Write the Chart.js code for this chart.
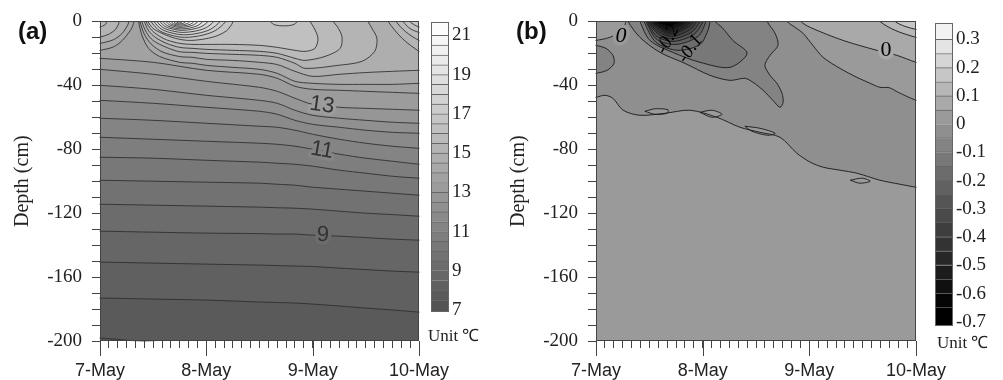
<!DOCTYPE html>
<html>
<head>
<meta charset="utf-8">
<script src="https://cdn.jsdelivr.net/npm/chart.js@4.4.1/dist/chart.umd.min.js"></script>
<style>
  html, body { margin:0; padding:0; background:#ffffff; }
  body { position:relative; width:1003px; height:380px; overflow:hidden; }
  canvas { position:absolute; top:0; }
  #pa { left:0px; width:465px; height:380px; }
  #cba { left:425px; width:75px; height:380px; }
  #pb { left:490px; width:470px; height:380px; }
  #cbb { left:925px; width:78px; height:380px; }
</style>
</head>
<body>
<canvas id="pa" width="465" height="380"></canvas>
<canvas id="pb" width="470" height="380"></canvas>
<canvas id="cba" width="75" height="380"></canvas>
<canvas id="cbb" width="78" height="380"></canvas>
<script>
// ================= DATA =================
// time axis in hours from 7-May 00:00, depth in cm
const xTickHours = [0, 24, 48, 72];
const xTickLabels = ['7-May', '8-May', '9-May', '10-May'];
const yTickValues = [0, -40, -80, -120, -160, -200];

// colour bar (a): band lower bounds (0.5 degC) and labelled ticks
const cbaBands = [7,7.5,8,8.5,9,9.5,10,10.5,11,11.5,12,12.5,13,13.5,14,14.5,15,15.5,16,16.5,17,17.5,18,18.5,19,19.5,20,20.5,21];
const cbaTicks = [7, 9, 11, 13, 15, 17, 19, 21];
const cbaTickLabels = ['7', '9', '11', '13', '15', '17', '19', '21'];
// colour bar (b)
const cbbBands = [-0.7,-0.65,-0.6,-0.55,-0.5,-0.45,-0.4,-0.35,-0.3,-0.25,-0.2,-0.15,-0.1,-0.05,0,0.05,0.1,0.15,0.2,0.25,0.3];
const cbbTicks = [-0.7,-0.6,-0.5,-0.4,-0.3,-0.2,-0.1,0,0.1,0.2,0.3];
const cbbTickLabels = ['-0.7','-0.6','-0.5','-0.4','-0.3','-0.2','-0.1','0','0.1','0.2','0.3'];

// ---- panel (a) isotherms: depth (cm) of each level ----
const aHours = [0, 12, 24, 36, 40, 44, 48, 54, 60, 66, 72];
const aDepth_8_0  = [-173.1,-173.75,-174.4,-175.6,-175.9,-176.25,-176.9,-178.1,-179.4,-180.6,-181.9];
const aDepth_8_5  = [-150.6,-151.25,-151.9,-152.5,-152.8,-153.1,-153.4,-154.4,-155.3,-156.25,-156.9];
const aDepth_9_0  = [-131.25,-131.9,-132.5,-132.8,-133.1,-133.1,-133.75,-134.4,-135.3,-136.25,-136.9];
const aDepth_9_5  = [-114.4,-115,-115.6,-116.25,-116.6,-116.9,-117.5,-118.75,-120,-120.9,-121.9];
const aDepth_10_0 = [-99.4,-100,-100.6,-101.25,-101.9,-102.5,-103.75,-105,-106.25,-107.5,-108.75];
const aDepth_10_5 = [-85,-85.6,-86.9,-88.1,-88.75,-89.4,-90.6,-93.1,-95,-96.9,-98.1];
const aDepth_11_0 = [-72.5,-73.75,-75,-76.25,-76.9,-78.1,-80,-83.1,-85.6,-87.5,-89.4];
const aDepth_11_5 = [-60.6,-61.9,-63.75,-65.6,-66.25,-68.1,-70.6,-73.75,-76.25,-78.1,-79.4];
const aDepth_12_0 = [-49.4,-51.25,-53.75,-56.25,-58.1,-61.9,-64.4,-66.25,-68.1,-69.4,-70];
const aDepth_12_5 = [-40,-42.5,-46.25,-49.4,-51.25,-55.6,-58.75,-60.6,-61.9,-63.1,-63.75];
const aDepth_13_0 = [-30,-33.1,-37.5,-41.25,-43.75,-48.1,-51.9,-53.75,-54.4,-55,-55.6];
const aDepth_13_5 = [-23.1,-25.6,-30.6,-33.1,-35.6,-40.6,-42.5,-43.1,-43.75,-44.4,-45];
const aLine_7_5  = [[0,-198.1],[8.4,-200],[24,-203],[48,-207],[72,-211]];
const aLine_14_0 = [[0,-18.1],[3,-16],[5,-12],[7,-5],[7.7,0],[7.8,2],[8.6,2],[8.7,0],[9.5,-9],[11,-17],[13.5,-22],[18,-25.6],[21,-26.25],[24,-27.5],[30,-28.75],[36,-30],[40,-32.5],[44,-37.5],[48,-38.75],[54,-39.4],[60,-39.4],[66,-39.4],[72,-38.75]];
const aLine_14_5 = [[0,-13.75],[3,-11.5],[5,-7.5],[6.3,-2],[6.5,0],[6.6,2],[8.9,2],[9.0,0],[10,-8],[11.5,-14],[14,-19],[18,-22],[21,-22.5],[24,-23.75],[30,-24.4],[36,-25.6],[40,-27],[44,-31.25],[48,-34.4],[54,-33.1],[60,-32],[66,-31.25],[72,-30.6]];
const aLine_15_0 = [[0,-9.8],[2,-8],[3.5,-5],[4.2,-1.5],[4.3,0],[4.4,2],[9.3,2],[9.4,0],[10.5,-7],[12,-12],[15,-16.25],[18,-19],[21,-19.4],[24,-20],[30,-20.6],[36,-21.25],[40,-22.5],[44,-26.25],[46.3,-29.4],[53.7,-27.5],[59.1,-25],[62,-18.75],[62.5,-10.6],[61.3,-4],[60.5,0],[60.4,2],[64.9,2],[65,0],[68.2,-10.6],[72,-18.75]];
const aLine_15_5 = [[0,-3.5],[1.2,-2],[1.5,0],[1.6,2],[9.9,2],[10,0],[11,-6],[12.5,-10],[15,-13.75],[18,-16.25],[21,-16.9],[24,-17.5],[30,-18.1],[36,-18.75],[40,-20],[44,-23.1],[46.3,-24.4],[50.8,-21.9],[54.2,-16.9],[54.6,-9.4],[53.5,-3],[52.6,0],[52.5,2],[66.7,2],[66.8,0],[69,-6.5],[72,-11.9]];
const aLine_16_0 = [[10.4,0],[11.5,-5],[13,-8.5],[15,-11.5],[18,-13.75],[21,-14.4],[24,-14.4],[30,-14.4],[36,-15],[40,-16.25],[44,-18.1],[46.3,-18.75],[48.5,-16.9],[49.2,-10.6],[48.3,-4],[47.4,0],[47.3,2],[68.3,2],[68.4,0],[70,-4.5],[72,-6.9]];
const aLine_16_5 = [[10.83,0],[12,-4.4],[14,-7.5],[17,-10.6],[20,-11.9],[23,-11.25],[26,-9.4],[28.5,-6],[29.7,-2],[30.0,0],[30.05,2],[38.3,2],[38.4,0],[39.5,-2.2],[41.5,-2.8],[43.5,-2.2],[44.6,0],[44.7,2],[69.8,2],[69.9,0],[71,-2.2],[72,-3.5]];
const aLoop_17_0 = [[11.51,0],[13.54,-6],[16.58,-9],[19.1,-10],[22.49,-9],[25.87,-6],[28.4,0]];
const aLoop_17_5 = [[12.19,0],[13.98,-5.04],[16.66,-7.56],[18.9,-8.4],[21.88,-7.56],[24.86,-5.04],[27.1,0]];
const aLoop_18_0 = [[12.86,0],[14.4,-4.14],[16.71,-6.21],[18.64,-6.9],[21.21,-6.21],[23.77,-4.14],[25.7,0]];
const aLoop_18_5 = [[13.54,0],[14.84,-3.36],[16.8,-5.04],[18.43,-5.6],[20.6,-5.04],[22.77,-3.36],[24.4,0]];
const aLoop_19_0 = [[14.22,0],[15.3,-2.82],[16.91,-4.23],[18.26,-4.7],[20.06,-4.23],[21.85,-2.82],[23.2,0]];
const aLoop_19_5 = [[14.9,0],[15.76,-2.25],[17.06,-3.38],[18.14,-3.75],[19.58,-3.38],[21.02,-2.25],[22.1,0]];
const aLoop_20_0 = [[15.46,0],[16.15,-1.8],[17.18,-2.7],[18.04,-3.0],[19.19,-2.7],[20.34,-1.8],[21.2,0]];
const aLoop_20_5 = [[16.02,0],[16.53,-1.35],[17.3,-2.03],[17.95,-2.25],[18.8,-2.03],[19.66,-1.35],[20.3,0]];
const aLoop_21_0 = [[16.59,0],[16.93,-0.96],[17.43,-1.44],[17.85,-1.6],[18.42,-1.44],[18.98,-0.96],[19.4,0]];
const aLoop_21_5 = [[17.15,0],[17.34,-0.54],[17.62,-0.81],[17.85,-0.9],[18.16,-0.81],[18.47,-0.54],[18.7,0]];
// contour labels (a): text, hour, depth
const aLabelTexts = ['13', '11', '9'];
const aLabelHours = [50.1, 50.1, 50.3];
const aLabelDepths = [-52.5, -80.6, -133.75];

// ---- panel (b) contour regions (hour, depth) ----
const bLine_lower   = [[0,-47.5],[2.0,-46.25],[3.8,-48.1],[6.1,-55.6],[9.9,-58.75],[15.5,-57.5],[21.2,-55.6],[27.2,-60],[32.4,-66.25],[36.9,-69.4],[41.4,-72.5],[45.2,-82.5],[48.2,-88.1],[51.1,-91.25],[54.9,-93.1],[58.7,-95],[63.9,-99.4],[68.4,-101.9],[72,-103.75]];
const bLine_upper   = [[42.98,0],[44.8,-3.75],[46.6,-7.5],[48.8,-15],[51.1,-22.5],[54.9,-29.4],[58.7,-35],[61.5,-38.5],[63.9,-41.25],[66,-41.5],[68.0,-44.4],[72,-49.4]];
const bLine_zero    = [[46.1,0],[48.2,-3.75],[55.6,-11.9],[63.2,-18.1],[67.7,-21.25],[72,-25.6]];
const bCorner_1     = [[63.9,0],[67.3,-5.6],[72,-10]];
const bCorner_2     = [[67.3,0],[69.5,-3.1],[72,-5]];
const bTopLeft      = [[0,-11.9],[3.1,-10],[5.85,-5.6],[6.75,0]];
const bIsland_1     = [[11.0,-56.25],[13.3,-54.7],[16.2,-55.3],[16.0,-57.5],[13.3,-58.1],[11.0,-56.25]];
const bIsland_2     = [[23.4,-56.9],[26.1,-55.6],[28.35,-58.1],[26.1,-60],[23.4,-56.9]];
const bIsland_3     = [[33.5,-65.6],[36.9,-66.9],[40.3,-70],[38.7,-71.25],[35.1,-68.75],[33.5,-65.6]];
const bIsland_4     = [[57.2,-99.4],[59.9,-98.1],[61.7,-100],[59.4,-101.25],[57.2,-99.4]];
const bLeftBulge    = [[0,-15],[2.25,-16.9],[3.8,-21.25],[4.05,-26.25],[2.5,-30.6],[0,-32.5]];
const bHot_05 = [[7.2,0],[9.9,-10],[14.4,-19.4],[20.0,-26.25],[25.65,-33.75],[30.15,-36.9],[33.5,-35.6],[35.3,-38.1],[37.6,-43.1],[39.8,-49.4],[41.4,-53.75],[42.1,-50.6],[41.85,-45],[40.7,-38.75],[39.15,-33.75],[38.0,-27.5],[39.15,-21.25],[40.95,-15],[40.3,-7.5],[38.5,0]];
const bHot_10 = [[9.9,0],[12.15,-11.9],[17.3,-19.4],[23.4,-25.6],[30.15,-28.75],[34.0,-20],[30.8,-11.9],[28.35,-3.75],[26.8,0]];
const bHot_15 = [[10.8,0],[13.5,-13.1],[18.45,-18.1],[23.4,-14.4],[25.2,-5.6],[25.65,0]];
const bHot_20 = [[11.25,0],[13.7,-11.25],[18.0,-14.4],[22.95,-9.4],[24.75,0]];
const bHot_25 = [[11.5,0],[13.7,-9.4],[17.55,-12.5],[22.05,-8.1],[24.1,0]];
const bHot_30 = [[11.7,0],[13.95,-7.8],[17.1,-10.9],[21.4,-6.9],[23.4,0]];
const bHot_35 = [[11.9,0],[13.95,-6.25],[16.9,-9.4],[20.9,-5.6],[22.7,0]];
const bHot_40 = [[12.15,0],[14.2,-5],[16.65,-8.1],[20.25,-4.4],[22.05,0]];
const bHot_45 = [[12.4,0],[14.4,-4.1],[16.4,-6.9],[19.8,-3.75],[21.4,0]];
const bHot_50 = [[12.6,0],[16.2,-5.6],[19.1,-3.1],[20.7,0]];
const bHot_55 = [[12.8,0],[16.0,-4.4],[18.7,-2.5],[19.8,0]];
const bHot_60 = [[13.3,0],[16.0,-3.1],[18.0,-1.9],[18.9,0]];
// contour labels (b)
const bLabelTexts = ['0', '0', '-0.2', '-0.1'];
const bLabelHours = [65.25, 5.6, 16.2, 21.2];
const bLabelDepths = [-18.1, -9.4, -11.2, -17.2];

// ================= BUILD =================
const X_MIN = 0, X_MAX = 72, Y_MIN = -200, Y_MAX = 0;
const SERIF = '"Liberation Serif", "Times New Roman", serif';
const SANS = '"Liberation Sans", Arial, sans-serif';

function pairs(hours, depths) { return hours.map((h, k) => [h, depths[k]]); }

// close a contour into a polygon through points lying outside the plot area
function closeShape(pts) {
  const first = pts[0], last = pts[pts.length - 1];
  if (first[0] === last[0] && first[1] === last[1]) return pts;
  const ABOVE = 3;
  const ext = p => {
    if (p[0] <= X_MIN) return [[X_MIN - 0.6, ABOVE], [X_MIN - 0.6, p[1]]];
    if (p[0] >= X_MAX) return [[X_MAX + 0.6, ABOVE], [X_MAX + 0.6, p[1]]];
    return [[p[0], ABOVE]];
  };
  return [...ext(first), ...pts, ...ext(last).reverse()];
}
const grey = g => { g = Math.max(0, Math.min(255, Math.round(g))); return `rgb(${g},${g},${g})`; };
const bandA = lvl => grey(84 + 6 * Math.round((lvl - 7) / 0.5));
const idxB = lvl => Math.round((lvl + 0.7) / 0.05);
const greyB = i => i <= 14 ? grey(154 - (14 - i) * 11.5) : grey(154 + (i - 14) * 14.7);
const bandB = lvl => greyB(idxB(lvl));

const aLines = [
  [7.5, aLine_7_5], [8, pairs(aHours, aDepth_8_0)], [8.5, pairs(aHours, aDepth_8_5)],
  [9, pairs(aHours, aDepth_9_0)], [9.5, pairs(aHours, aDepth_9_5)], [10, pairs(aHours, aDepth_10_0)],
  [10.5, pairs(aHours, aDepth_10_5)], [11, pairs(aHours, aDepth_11_0)], [11.5, pairs(aHours, aDepth_11_5)],
  [12, pairs(aHours, aDepth_12_0)], [12.5, pairs(aHours, aDepth_12_5)], [13, pairs(aHours, aDepth_13_0)],
  [13.5, pairs(aHours, aDepth_13_5)], [14, aLine_14_0], [14.5, aLine_14_5], [15, aLine_15_0],
  [15.5, aLine_15_5], [16, aLine_16_0], [16.5, aLine_16_5], [17, aLoop_17_0], [17.5, aLoop_17_5],
  [18, aLoop_18_0], [18.5, aLoop_18_5], [19, aLoop_19_0], [19.5, aLoop_19_5], [20, aLoop_20_0],
  [20.5, aLoop_20_5], [21, aLoop_21_0], [21.5, aLoop_21_5]
];
const bRegions = [
  [-0.05, bLine_lower], [0, bLine_upper], [0.05, bLine_zero], [0.1, bCorner_1], [0.15, bCorner_2],
  [0, bTopLeft], [0, bIsland_1], [0, bIsland_2], [0, bIsland_3], [0, bIsland_4],
  [-0.1, bLeftBulge], [-0.1, bHot_05], [-0.15, bHot_10],
  [-0.2, bHot_15], [-0.25, bHot_20], [-0.3, bHot_25], [-0.35, bHot_30], [-0.4, bHot_35],
  [-0.45, bHot_40], [-0.5, bHot_45], [-0.55, bHot_50], [-0.6, bHot_55], [-0.65, bHot_60]
];

function contourDataset(pts, fillColor, lineColor, order) {
  return {
    data: closeShape(pts), fill: 'shape', backgroundColor: fillColor,
    borderColor: lineColor, borderWidth: 1, pointRadius: 0, pointHoverRadius: 0,
    tension: 0.3, capBezierPoints: false, order: order
  };
}

const panelPlugin = {
  id: 'panel',
  beforeDraw(chart, args, o) {
    const {ctx, chartArea: a} = chart;
    ctx.save(); ctx.fillStyle = o.bg; ctx.fillRect(a.left, a.top, a.right - a.left, a.bottom - a.top); ctx.restore();
  },
  afterDatasetsDraw(chart, args, o) {
    const {ctx, chartArea: a, scales} = chart;
    ctx.save();
    // contour labels (kept inside the plot area)
    ctx.save();
    ctx.beginPath(); ctx.rect(a.left, a.top, a.right - a.left, a.bottom - a.top); ctx.clip();
    o.labels.forEach(l => {
      const x = scales.x.getPixelForValue(l.h), y = scales.y.getPixelForValue(l.d);
      ctx.save(); ctx.translate(x, y); ctx.rotate(l.rot * Math.PI / 180);
      ctx.font = l.font; ctx.textAlign = 'center'; ctx.textBaseline = 'middle';
      if (l.mask) { ctx.strokeStyle = l.mask; ctx.lineWidth = 7; ctx.lineJoin = 'round'; ctx.strokeText(l.text, 0, 0); }
      ctx.fillStyle = l.color; ctx.fillText(l.text, 0, 0);
      ctx.restore();
    });
    ctx.restore();
    // frame
    ctx.strokeStyle = '#444'; ctx.lineWidth = 1;
    ctx.strokeRect(Math.round(a.left) + 0.5, Math.round(a.top) + 0.5, Math.round(a.right - a.left) - 1, Math.round(a.bottom - a.top) - 1);
    // long ticks at day boundaries
    xTickHours.forEach(h => {
      const x = Math.round(scales.x.getPixelForValue(h)) + 0.5;
      ctx.beginPath(); ctx.moveTo(x, a.bottom); ctx.lineTo(x, a.bottom + 15); ctx.stroke();
    });
    // panel tag
    ctx.fillStyle = '#111'; ctx.font = 'bold 24px ' + SANS; ctx.textAlign = 'left'; ctx.textBaseline = 'middle';
    ctx.fillText(o.tag, o.tagX, 32);
    ctx.restore();
  }
};

function panelConfig(datasets, p) {
  return {
    type: 'line',
    data: { datasets },
    plugins: [panelPlugin],
    options: {
      responsive: false, animation: false, events: [],
      layout: { padding: { left: 0, top: 21, right: p.padRight, bottom: 0 } },
      plugins: {
        legend: { display: false }, tooltip: { enabled: false },
        filler: { drawTime: 'beforeDatasetsDraw', propagate: false },
        panel: { bg: p.bg, labels: p.labels, tag: p.tag, tagX: p.tagX }
      },
      scales: {
        x: {
          type: 'linear', bounds: 'data',
          afterDataLimits: s => { s.min = X_MIN; s.max = X_MAX; },
          ticks: {
            stepSize: 2, autoSkip: false, maxRotation: 0, minRotation: 0, padding: 12, color: '#222',
            font: { family: SANS, size: 18 },
            callback: v => { const k = xTickHours.indexOf(v); return k >= 0 ? xTickLabels[k] : ''; }
          },
          grid: { drawOnChartArea: false, drawTicks: true, tickLength: 7, color: '#444', tickColor: '#444' },
          border: { display: false },
          afterFit: s => { s.height = 39; }
        },
        y: {
          type: 'linear', bounds: 'data',
          afterDataLimits: s => { s.min = Y_MIN; s.max = Y_MAX; },
          ticks: {
            stepSize: 10, autoSkip: false, padding: 10, color: '#222',
            font: { family: SERIF, size: 19 },
            callback: v => (yTickValues.indexOf(v) >= 0 ? String(v) : '')
          },
          grid: { drawOnChartArea: false, drawTicks: true, tickLength: 8, color: '#444', tickColor: '#444' },
          border: { display: false },
          title: { display: true, text: 'Depth (cm)', color: '#222', font: { family: SERIF, size: 20 }, padding: { top: p.titlePad, bottom: 0 } },
          afterFit: s => { s.width = p.yWidth; }
        }
      }
    }
  };
}

// ---- panel (a) ----  plot area x 100..419, y 21..341
const LINE_A = 'rgba(45,45,45,0.85)';
const aDatasets = aLines.map(([lvl, pts]) => contourDataset(pts, bandA(lvl), LINE_A, -lvl));
const aLabelObjs = aLabelTexts.map((t, k) => ({
  text: t, h: aLabelHours[k], d: aLabelDepths[k], rot: [8, 10, 1][k],
  font: '22px ' + SANS, color: '#333', mask: bandA(parseFloat(t))
}));
new Chart(document.getElementById('pa'), panelConfig(aDatasets, {
  padRight: 46, bg: bandA(7), labels: aLabelObjs, tag: '(a)', tagX: 18, titlePad: 11, yWidth: 100
}));

// ---- panel (b) ----  plot area x 596..916
const LINE_B = 'rgba(25,25,25,0.9)';
const bDatasets = bRegions.map(([lvl, pts], k) => contourDataset(pts, bandB(lvl), LINE_B, -k));
const bLabelObjs = bLabelTexts.map((t, k) => ({
  text: t, h: bLabelHours[k], d: bLabelDepths[k], rot: [0, 0, -62, -55][k],
  font: ['22px ', 'italic 22px ', 'italic 19px ', 'italic 19px '][k] + SERIF, color: '#000',
  mask: [bandB(0.05), bandB(0), null, null][k]
}));
new Chart(document.getElementById('pb'), panelConfig(bDatasets, {
  padRight: 44, bg: bandB(0), labels: bLabelObjs, tag: '(b)', tagX: 26, titlePad: 17, yWidth: 106
}));

// ---- colour bars ----
const cbPlugin = {
  id: 'cb',
  afterDatasetsDraw(chart, args, o) {
    const {ctx, chartArea: a} = chart;
    ctx.save();
    ctx.strokeStyle = '#666'; ctx.lineWidth = 1;
    ctx.strokeRect(Math.round(a.left) + 0.5, Math.round(a.top) + 0.5, Math.round(a.right - a.left) - 1, Math.round(a.bottom - a.top) - 1);
    ctx.fillStyle = '#222'; ctx.font = '17px ' + SERIF; ctx.textAlign = 'left'; ctx.textBaseline = 'middle';
    ctx.fillText('Unit \u2103', o.unitX, o.unitY);
    ctx.restore();
  }
};
function colorbarConfig(bands, step, colorOf, ticks, labels, c) {
  const last = bands.length - 1;
  return {
    type: 'bar',
    data: {
      labels: [''],
      datasets: bands.map((b, k) => ({
        data: [[k === 0 ? c.min : b, k === last ? c.max : b + step]], backgroundColor: colorOf(b), borderColor: '#666', borderWidth: 1,
        borderSkipped: 'start', barPercentage: 1, categoryPercentage: 1, grouped: false
      }))
    },
    plugins: [cbPlugin],
    options: {
      responsive: false, animation: false, events: [],
      layout: { padding: { left: c.left, top: c.top, bottom: c.bottom, right: 0 } },
      plugins: { legend: { display: false }, tooltip: { enabled: false }, cb: { unitX: c.unitX, unitY: c.unitY } },
      scales: {
        x: { display: false },
        y: {
          position: 'right', min: c.min, max: c.max, bounds: 'data',
          afterBuildTicks: s => { s.ticks = ticks.map(v => ({ value: v })); },
          ticks: { callback: (v, i) => labels[i], color: '#222', font: { family: SERIF, size: 19 }, padding: 3 },
          grid: { display: false, drawTicks: false }, border: { display: false },
          afterFit: s => { s.width = c.yWidth; }
        }
      }
    }
  };
}
new Chart(document.getElementById('cba'), colorbarConfig(cbaBands, 0.5, bandA, cbaTicks, cbaTickLabels,
  { left: 6, top: 22, bottom: 68, yWidth: 51, min: 6.9, max: 21.68, unitX: 3, unitY: 337 }));
new Chart(document.getElementById('cbb'), colorbarConfig(cbbBands, 0.05, bandB, cbbTicks, cbbTickLabels,
  { left: 10, top: 23, bottom: 54, yWidth: 50, min: -0.714, max: 0.358, unitX: 12, unitY: 344 }));
</script>
</body>
</html>
